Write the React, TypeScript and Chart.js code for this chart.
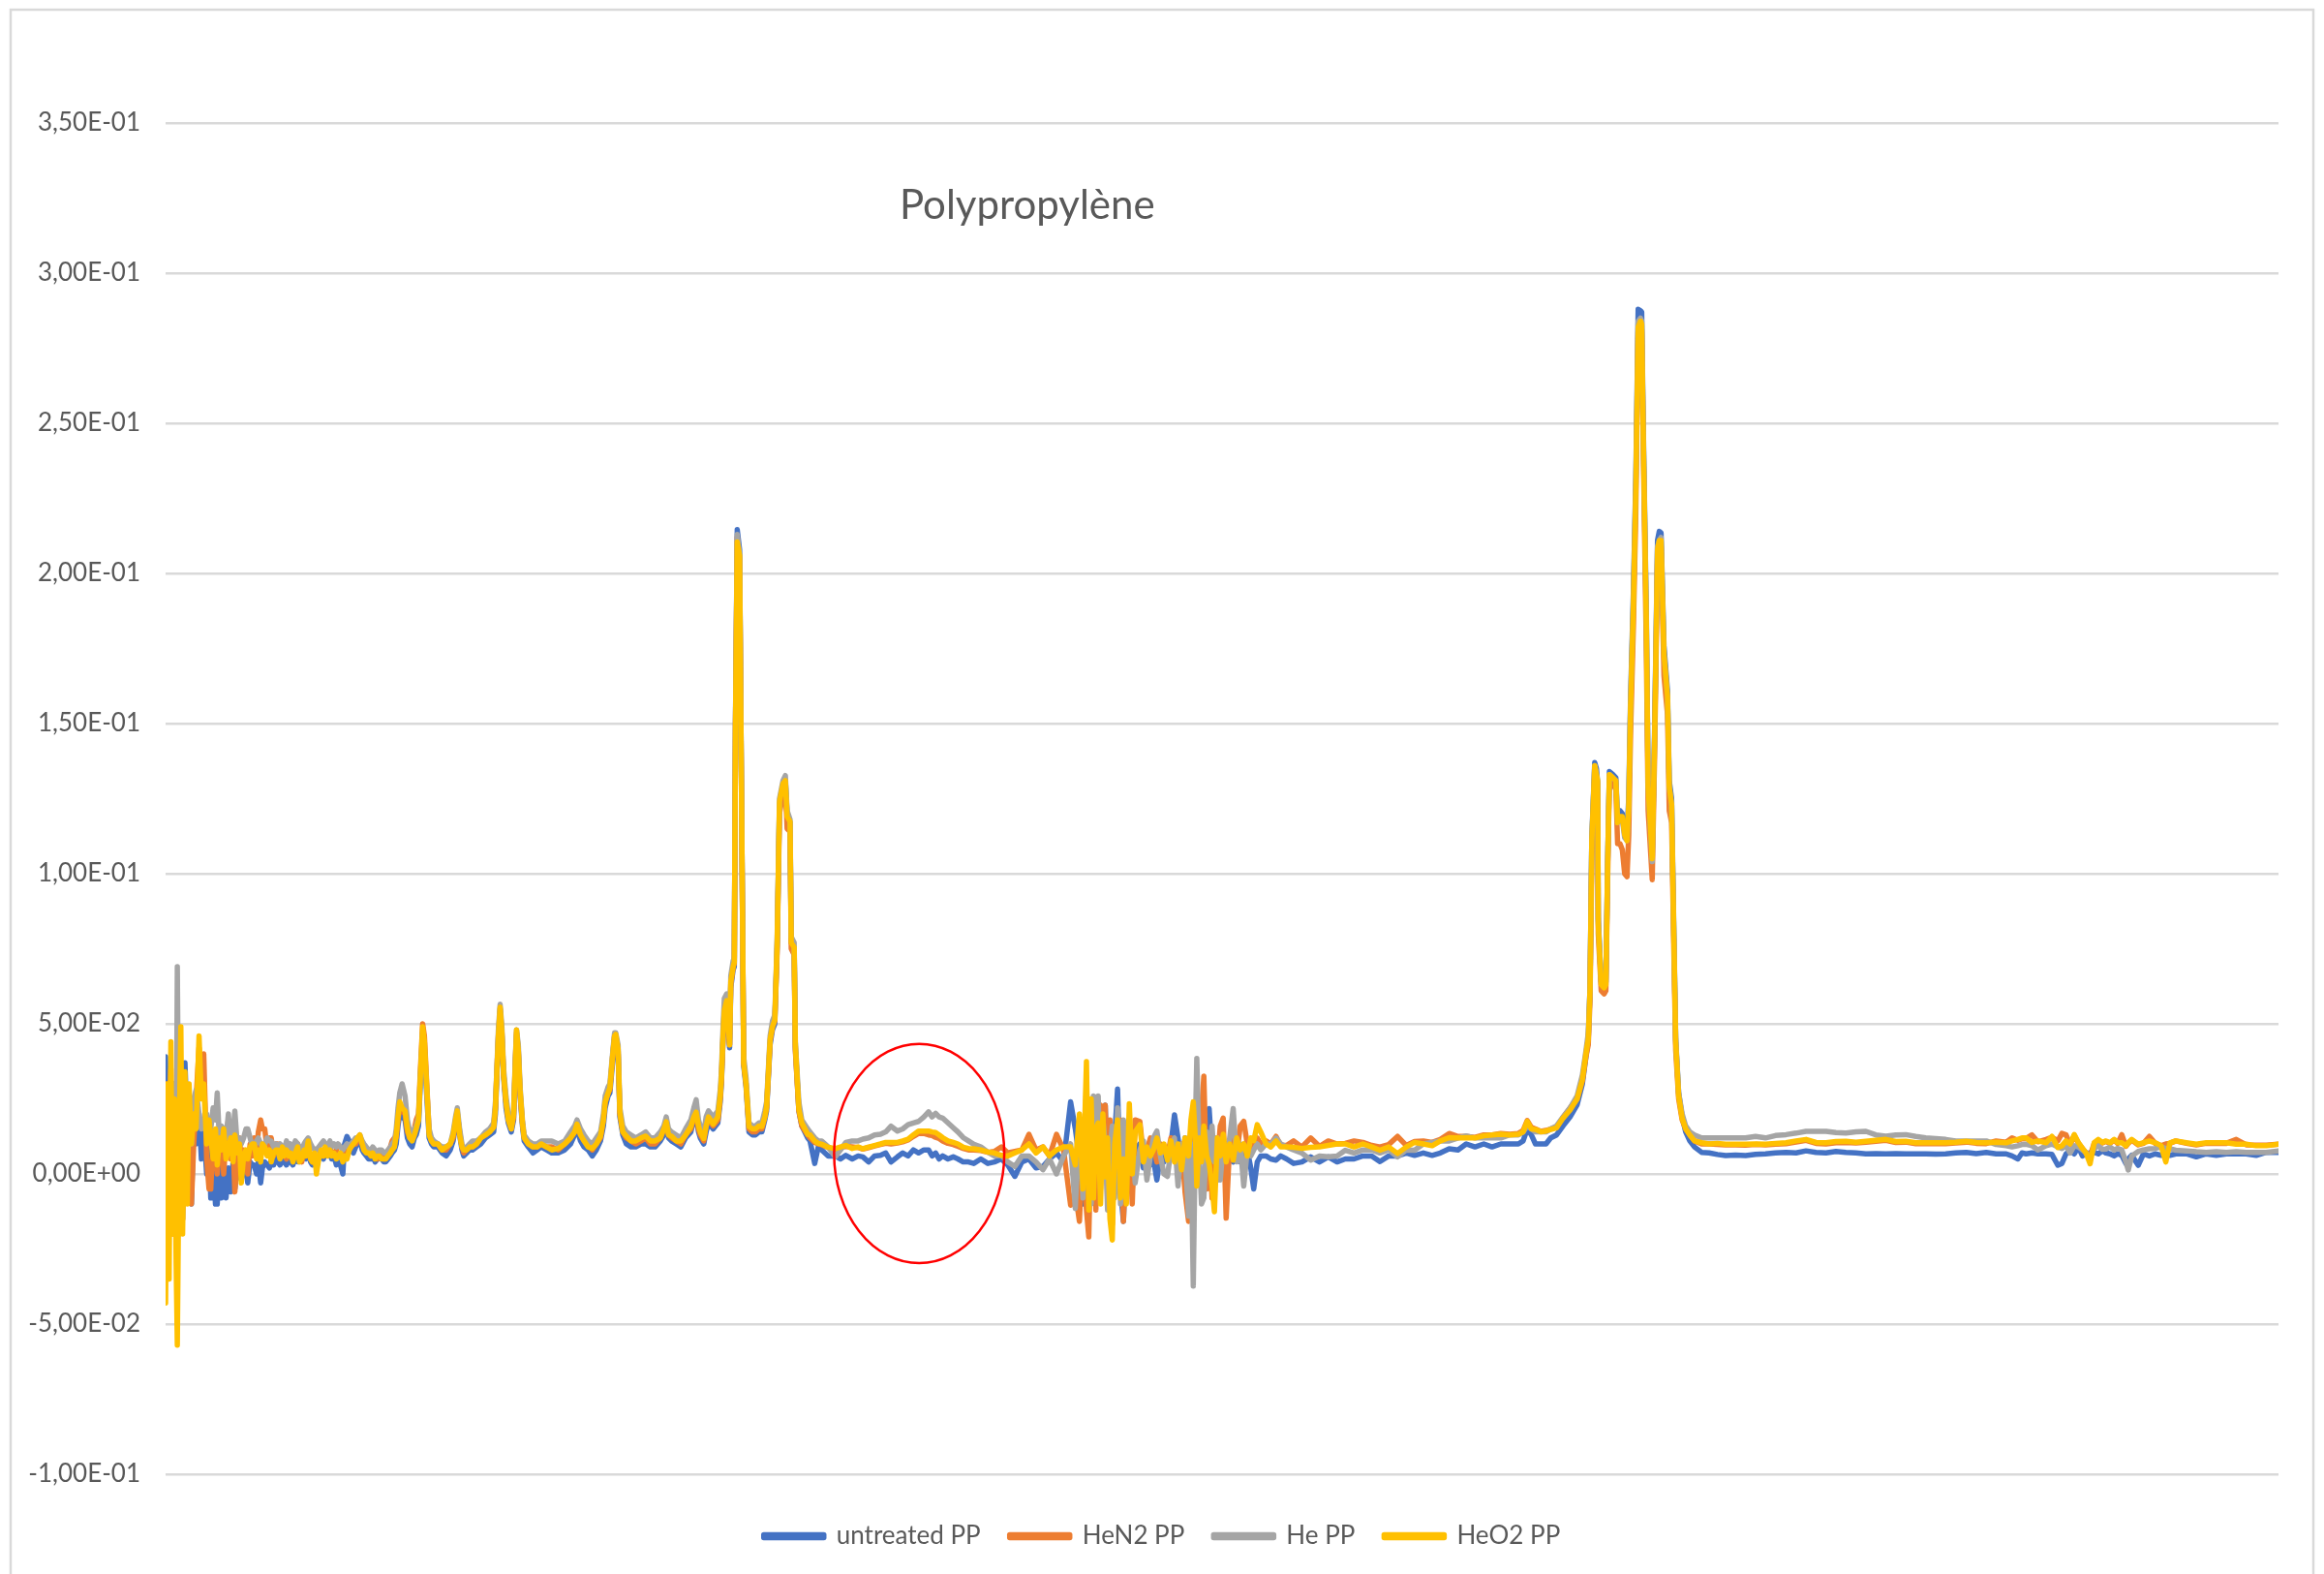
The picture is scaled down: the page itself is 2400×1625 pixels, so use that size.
import React, { useEffect, useRef } from 'react';
import { Chart, registerables } from 'chart.js';

Chart.register(...registerables);

// Wavenumber (cm-1) positions of the samples, shared by all four spectra
const WAVENUMBERS = [
  400, 403, 406, 409, 412, 415, 418, 420, 423, 426,
  429, 433, 437, 440, 444, 448, 452, 457, 461, 465,
  470, 474, 477, 481, 485, 488, 492, 495, 499, 503,
  507, 511, 515, 518, 522, 526, 529, 533, 537, 540,
  544, 548, 551, 555, 558, 562, 565, 569, 573, 577,
  580, 584, 588, 591, 595, 599, 602, 606, 610, 613,
  617, 621, 625, 628, 632, 636, 639, 643, 647, 650,
  654, 657, 661, 665, 669, 672, 676, 680, 683, 687,
  691, 694, 698, 702, 705, 709, 713, 716, 720, 724,
  727, 731, 735, 738, 742, 746, 750, 753, 757, 761,
  764, 768, 772, 775, 779, 783, 786, 790, 793, 796,
  799, 803, 808, 812, 816, 820, 824, 827, 831, 834,
  838, 841, 845, 849, 853, 857, 864, 871, 878, 885,
  890, 894, 897, 901, 905, 908, 913, 918, 923, 930,
  937, 945, 952, 959, 962, 964, 967, 970, 973, 976,
  980, 984, 989, 993, 996, 998, 1001, 1004, 1008, 1011,
  1018, 1026, 1033, 1040, 1049, 1058, 1069, 1080, 1090, 1097,
  1101, 1107, 1113, 1120, 1127, 1134, 1141, 1146, 1149, 1154,
  1157, 1162, 1165, 1167, 1171, 1174, 1179, 1185, 1193, 1201,
  1210, 1218, 1226, 1234, 1243, 1249, 1253, 1257, 1262, 1270,
  1278, 1286, 1295, 1300, 1304, 1308, 1311, 1317, 1321, 1325,
  1333, 1341, 1345, 1347, 1350, 1352, 1356, 1361, 1363, 1367,
  1369, 1371, 1374, 1378, 1382, 1385, 1389, 1394, 1400, 1405,
  1411, 1416, 1421, 1424, 1430, 1434, 1438, 1442, 1446, 1452,
  1456, 1459, 1464, 1466, 1471, 1473, 1479, 1484, 1494, 1498,
  1506, 1512, 1518, 1529, 1541, 1550, 1559, 1570, 1580, 1588,
  1598, 1608, 1618, 1627, 1636, 1647, 1656, 1665, 1674, 1683,
  1692, 1700, 1706, 1712, 1718, 1724, 1733, 1742, 1750, 1759,
  1768, 1777, 1789, 1801, 1812, 1824, 1835, 1847, 1859, 1871,
  1883, 1895, 1906, 1918, 1930, 1942, 1950, 1957, 1963, 1969,
  1973, 1977, 1981, 1985, 1989, 1993, 1997, 2001, 2005, 2009,
  2013, 2017, 2022, 2027, 2032, 2037, 2042, 2047, 2052, 2060,
  2066, 2072, 2078, 2083, 2089, 2095, 2101, 2107, 2113, 2119,
  2125, 2131, 2137, 2143, 2147, 2151, 2155, 2157, 2161, 2165,
  2169, 2174, 2178, 2183, 2187, 2192, 2197, 2202, 2207, 2213,
  2219, 2225, 2231, 2237, 2243, 2249, 2254, 2260, 2266, 2275,
  2283, 2292, 2300, 2310, 2322, 2336, 2351, 2366, 2381, 2396,
  2410, 2425, 2440, 2455, 2469, 2484, 2499, 2514, 2528, 2543,
  2558, 2572, 2587, 2602, 2616, 2631, 2646, 2660, 2675, 2690,
  2705, 2713, 2720, 2727, 2734, 2743, 2752, 2760, 2770, 2781,
  2793, 2805, 2814, 2820, 2824, 2827, 2830, 2835, 2838, 2840,
  2841, 2846, 2851, 2854, 2857, 2860, 2866, 2871, 2874, 2878,
  2882, 2886, 2890, 2893, 2896, 2901, 2905, 2909, 2913, 2915,
  2918, 2923, 2926, 2933, 2937, 2942, 2945, 2948, 2953, 2959,
  2962, 2966, 2970, 2973, 2978, 2984, 2990, 2997, 3005, 3017,
  3030, 3044, 3058, 3075, 3092, 3109, 3126, 3143, 3161, 3178,
  3195, 3212, 3229, 3246, 3263, 3280, 3297, 3314, 3331, 3348,
  3365, 3382, 3399, 3416, 3433, 3450, 3468, 3485, 3502, 3519,
  3536, 3546, 3556, 3563, 3570, 3580, 3590, 3604, 3614, 3624,
  3631, 3638, 3645, 3652, 3659, 3666, 3672, 3679, 3686, 3693,
  3700, 3706, 3713, 3720, 3726, 3733, 3740, 3744, 3750, 3761,
  3770, 3780, 3790, 3800, 3808, 3815, 3825, 3843, 3860, 3877,
  3894, 3911, 3928, 3945, 3962, 3979, 4000,
];

const UNTREATED_PP = [
  0.039, 0.010, -0.020, 0.025, 0.000, 0.030, -0.015, 0.005, 0.020, 0.010,
  -0.010, 0.037, 0.015, 0.025, -0.010, 0.018, 0.010, 0.020, 0.005, 0.015,
  0.000, 0.010, -0.008, 0.005, -0.010, -0.010, 0.005, -0.008, 0.005, -0.008,
  0.002, -0.006, 0.004, -0.005, 0.003, 0.006, -0.002, 0.004, 0.002, -0.003,
  0.004, 0.003, 0.003, 0.000, 0.004, -0.003, 0.002, 0.004, 0.003, 0.002,
  0.005, 0.003, 0.006, 0.004, 0.003, 0.005, 0.004, 0.003, 0.005, 0.004,
  0.003, 0.006, 0.004, 0.004, 0.005, 0.007, 0.005, 0.009, 0.004, 0.003,
  0.005, 0.002, 0.006, 0.006, 0.005, 0.007, 0.006, 0.007, 0.005, 0.006,
  0.003, 0.004, 0.003, 0.000, 0.010, 0.0125, 0.011, 0.008, 0.007, 0.009,
  0.010, 0.012, 0.008, 0.007, 0.006, 0.005, 0.005, 0.006, 0.004, 0.005,
  0.006, 0.005, 0.004, 0.004, 0.005, 0.006, 0.007, 0.008, 0.010, 0.016,
  0.020, 0.019, 0.018, 0.012, 0.010, 0.009, 0.012, 0.013, 0.016, 0.030,
  0.045, 0.040, 0.026, 0.012, 0.010, 0.009, 0.009, 0.007, 0.006, 0.008,
  0.011, 0.016, 0.020, 0.013, 0.008, 0.006, 0.007, 0.008, 0.008, 0.009,
  0.010, 0.012, 0.013, 0.014, 0.020, 0.030, 0.045, 0.054, 0.046, 0.032,
  0.022, 0.017, 0.014, 0.018, 0.036, 0.046, 0.040, 0.026, 0.016, 0.011,
  0.009, 0.007, 0.008, 0.009, 0.008, 0.007, 0.007, 0.008, 0.010, 0.013,
  0.015, 0.011, 0.009, 0.008, 0.006, 0.008, 0.011, 0.016, 0.022, 0.026,
  0.027, 0.038, 0.044, 0.045, 0.040, 0.019, 0.013, 0.010, 0.009, 0.009,
  0.010, 0.010, 0.009, 0.009, 0.011, 0.013, 0.016, 0.012, 0.011, 0.010,
  0.009, 0.012, 0.014, 0.018, 0.019, 0.014, 0.012, 0.010, 0.014, 0.017,
  0.015, 0.017, 0.024, 0.030, 0.045, 0.053, 0.056, 0.042, 0.062, 0.068,
  0.069, 0.150, 0.2146, 0.208, 0.110, 0.036, 0.029, 0.014, 0.013, 0.013,
  0.014, 0.014, 0.018, 0.021, 0.043, 0.048, 0.050, 0.076, 0.123, 0.129,
  0.131, 0.120, 0.117, 0.077, 0.075, 0.042, 0.021, 0.016, 0.012, 0.011,
  0.0035, 0.009, 0.008, 0.006, 0.006, 0.005, 0.0062, 0.005, 0.006, 0.0057,
  0.004, 0.006, 0.0062, 0.007, 0.004, 0.0057, 0.007, 0.006, 0.008, 0.007,
  0.008, 0.008, 0.006, 0.007, 0.005, 0.006, 0.005, 0.0057, 0.005, 0.004,
  0.004, 0.0035, 0.005, 0.0035, 0.004, 0.005, 0.003, -0.0008, 0.004, 0.005,
  0.002, 0.0025, 0.005, 0.007, 0.004, 0.024, 0.015, 0.005, -0.010, 0.020,
  0.010, -0.005, 0.018, 0.000, 0.012, 0.015, 0.005, 0.0229, -0.005, 0.010,
  -0.012, 0.012, 0.0283, -0.005, -0.0158, 0.010, 0.004, -0.005, 0.008, 0.010,
  0.002, 0.006, 0.003, 0.005, -0.002, 0.006, 0.004, 0.008, 0.010, 0.0197,
  0.012, 0.004, 0.012, -0.004, 0.008, 0.002, 0.010, 0.004, 0.014, 0.006,
  0.016, 0.010, 0.0218, 0.006, 0.012, -0.002, 0.008, 0.004, 0.010, 0.006,
  0.004, 0.008, 0.004, 0.006, 0.008, 0.002, -0.005, 0.004, 0.006, 0.006,
  0.005, 0.0046, 0.006, 0.005, 0.0035, 0.004, 0.0057, 0.004, 0.0057, 0.004,
  0.005, 0.005, 0.006, 0.006, 0.0041, 0.006, 0.006, 0.007, 0.0062, 0.007,
  0.0062, 0.007, 0.0084, 0.008, 0.010, 0.009, 0.010, 0.009, 0.010, 0.010,
  0.010, 0.011, 0.015, 0.013, 0.010, 0.010, 0.010, 0.012, 0.013, 0.016,
  0.019, 0.023, 0.030, 0.039, 0.045, 0.062, 0.112, 0.137, 0.135, 0.130,
  0.085, 0.064, 0.063, 0.064, 0.104, 0.134, 0.133, 0.132, 0.118, 0.121,
  0.120, 0.114, 0.112, 0.126, 0.158, 0.195, 0.232, 0.288, 0.2875, 0.287,
  0.246, 0.186, 0.131, 0.107, 0.148, 0.211, 0.214, 0.2135, 0.176, 0.161,
  0.131, 0.125, 0.079, 0.045, 0.027, 0.019, 0.014, 0.011, 0.009, 0.0072,
  0.007, 0.0065, 0.0061, 0.0063, 0.0061, 0.0065, 0.0067, 0.007, 0.0072, 0.007,
  0.0077, 0.0072, 0.007, 0.0075, 0.0072, 0.007, 0.0067, 0.0068, 0.0067, 0.0068,
  0.0067, 0.0067, 0.0067, 0.0066, 0.0067, 0.007, 0.0072, 0.0068, 0.0072, 0.0067,
  0.0067, 0.006, 0.005, 0.007, 0.0067, 0.007, 0.0067, 0.0067, 0.0065, 0.0029,
  0.0035, 0.0067, 0.0077, 0.0067, 0.009, 0.006, 0.0067, 0.0070, 0.0072, 0.0067,
  0.0077, 0.007, 0.0067, 0.006, 0.0067, 0.0062, 0.0035, 0.005, 0.0062, 0.0029,
  0.0067, 0.006, 0.0067, 0.0062, 0.0067, 0.0062, 0.0067, 0.0067, 0.0057, 0.0067,
  0.0062, 0.0067, 0.0067, 0.0067, 0.0062, 0.0072, 0.0072,
];

const HEN2_PP = [
  0.030, -0.010, 0.020, 0.035, -0.020, 0.015, 0.010, -0.010, 0.025, 0.030,
  -0.015, 0.025, 0.020, 0.010, -0.010, 0.010, 0.025, 0.042, 0.030, 0.040,
  0.005, -0.005, -0.005, 0.012, 0.008, 0.000, 0.010, 0.015, 0.000, 0.012,
  0.018, 0.005, 0.010, -0.006, 0.005, 0.012, 0.003, 0.008, 0.004, 0.000,
  0.010, 0.006, 0.012, 0.008, 0.014, 0.018, 0.015, 0.015, 0.008, 0.012,
  0.012, 0.006, 0.010, 0.010, 0.007, 0.006, 0.006, 0.005, 0.007, 0.006,
  0.009, 0.007, 0.010, 0.005, 0.004, 0.008, 0.006, 0.008, 0.005, 0.004,
  0.006, 0.003, 0.006, 0.008, 0.006, 0.008, 0.007, 0.009, 0.007, 0.006,
  0.008, 0.006, 0.007, 0.006, 0.008, 0.007, 0.008, 0.009, 0.010, 0.010,
  0.011, 0.012, 0.010, 0.008, 0.008, 0.007, 0.006, 0.007, 0.006, 0.005,
  0.007, 0.006, 0.005, 0.005, 0.007, 0.009, 0.011, 0.012, 0.012, 0.018,
  0.022, 0.021, 0.020, 0.014, 0.012, 0.012, 0.015, 0.018, 0.020, 0.034,
  0.050, 0.046, 0.030, 0.014, 0.011, 0.010, 0.010, 0.008, 0.008, 0.010,
  0.012, 0.017, 0.020, 0.014, 0.009, 0.007, 0.008, 0.009, 0.009, 0.010,
  0.012, 0.013, 0.014, 0.016, 0.022, 0.032, 0.046, 0.055, 0.047, 0.033,
  0.024, 0.018, 0.015, 0.019, 0.038, 0.047, 0.041, 0.027, 0.017, 0.012,
  0.010, 0.009, 0.009, 0.010, 0.009, 0.009, 0.008, 0.010, 0.012, 0.014,
  0.016, 0.013, 0.011, 0.010, 0.008, 0.010, 0.012, 0.018, 0.024, 0.027,
  0.028, 0.040, 0.046, 0.046, 0.041, 0.020, 0.014, 0.012, 0.011, 0.010,
  0.011, 0.012, 0.010, 0.010, 0.012, 0.015, 0.017, 0.013, 0.012, 0.011,
  0.010, 0.013, 0.015, 0.019, 0.020, 0.015, 0.013, 0.011, 0.016, 0.018,
  0.016, 0.018, 0.025, 0.031, 0.046, 0.054, 0.057, 0.043, 0.063, 0.069,
  0.070, 0.148, 0.212, 0.205, 0.108, 0.037, 0.030, 0.015, 0.014, 0.014,
  0.015, 0.015, 0.019, 0.022, 0.044, 0.049, 0.051, 0.074, 0.120, 0.127,
  0.129, 0.115, 0.114, 0.075, 0.073, 0.041, 0.021, 0.016, 0.013, 0.012,
  0.0105, 0.0100, 0.0097, 0.0088, 0.0082, 0.0088, 0.0092, 0.0090, 0.0088, 0.0083,
  0.0088, 0.0093, 0.0098, 0.0102, 0.0100, 0.0103, 0.0107, 0.0113, 0.0125, 0.0135,
  0.0135, 0.0130, 0.0128, 0.0122, 0.0118, 0.0110, 0.0102, 0.0098, 0.0092, 0.0085,
  0.0080, 0.0080, 0.0078, 0.0072, 0.0075, 0.0090, 0.0070, 0.0075, 0.0080, 0.0132,
  0.008, 0.009, 0.006, 0.0132, 0.008, -0.0104, -0.006, -0.0158, 0.010, -0.012,
  -0.021, 0.015, 0.008, -0.012, 0.020, 0.0229, 0.010, 0.0229, -0.008, 0.018,
  -0.0167, 0.010, 0.012, 0.018, -0.0158, 0.010, 0.012, -0.010, 0.018, 0.0175,
  0.006, 0.008, 0.012, 0.009, 0.004, 0.010, 0.008, 0.006, 0.012, 0.008,
  0.004, 0.010, -0.006, -0.0158, 0.012, 0.008, 0.000, 0.014, 0.006, 0.020,
  0.0326, -0.005, 0.010, -0.008, 0.012, 0.004, 0.016, 0.0186, -0.0147, 0.010,
  0.012, 0.006, 0.016, 0.0175, 0.010, 0.008, 0.010, 0.012, 0.010, 0.011,
  0.0100, 0.0125, 0.0095, 0.0095, 0.0110, 0.0090, 0.0120, 0.0092, 0.0110, 0.0100,
  0.0102, 0.0110, 0.0105, 0.0095, 0.0090, 0.0098, 0.0125, 0.0095, 0.0108, 0.0110,
  0.0105, 0.0115, 0.0135, 0.0125, 0.0125, 0.0122, 0.0130, 0.0130, 0.0135, 0.0132,
  0.0135, 0.0145, 0.0178, 0.0155, 0.0150, 0.0142, 0.0145, 0.0150, 0.0156, 0.0188,
  0.022, 0.025, 0.031, 0.039, 0.043, 0.058, 0.105, 0.133, 0.130, 0.125,
  0.080, 0.061, 0.060, 0.061, 0.098, 0.131, 0.130, 0.128, 0.110, 0.110,
  0.108, 0.100, 0.099, 0.113, 0.146, 0.183, 0.220, 0.281, 0.283, 0.281,
  0.238, 0.173, 0.121, 0.098, 0.139, 0.204, 0.208, 0.209, 0.166, 0.153,
  0.121, 0.117, 0.072, 0.041, 0.025, 0.018, 0.015, 0.013, 0.011, 0.010,
  0.010, 0.0098, 0.0097, 0.0097, 0.0096, 0.0098, 0.0097, 0.0099, 0.0101, 0.0106,
  0.0112, 0.0102, 0.0100, 0.0104, 0.0105, 0.0103, 0.0106, 0.0109, 0.0112, 0.0105,
  0.0106, 0.0101, 0.0101, 0.0101, 0.0101, 0.0103, 0.0106, 0.0102, 0.0101, 0.0110,
  0.0106, 0.0120, 0.0112, 0.0117, 0.0118, 0.0130, 0.0107, 0.0115, 0.0122, 0.0110,
  0.0135, 0.0130, 0.0098, 0.0128, 0.0103, 0.0085, 0.0070, 0.0060, 0.0102, 0.0112,
  0.0103, 0.0108, 0.0102, 0.0113, 0.0102, 0.0131, 0.0092, 0.0102, 0.0113, 0.0097,
  0.0102, 0.0125, 0.0102, 0.0094, 0.0100, 0.0102, 0.0110, 0.0102, 0.0097, 0.0102,
  0.0102, 0.0102, 0.0115, 0.0097, 0.0096, 0.0096, 0.0099,
];

const HE_PP = [
  0.000, 0.020, -0.015, 0.010, -0.010, 0.030, 0.000, 0.069, -0.010, 0.020,
  -0.015, 0.020, 0.005, 0.020, 0.010, 0.025, 0.028, 0.020, 0.015, 0.018,
  0.020, 0.012, 0.015, 0.022, 0.018, 0.027, 0.010, 0.016, 0.015, 0.012,
  0.020, 0.008, 0.014, 0.021, 0.010, 0.012, 0.010, 0.012, 0.015, 0.015,
  0.012, 0.009, 0.009, 0.011, 0.012, 0.010, 0.009, 0.010, 0.012, 0.011,
  0.011, 0.009, 0.010, 0.009, 0.010, 0.009, 0.008, 0.011, 0.009, 0.010,
  0.008, 0.011, 0.010, 0.009, 0.008, 0.010, 0.011, 0.012, 0.010, 0.009,
  0.008, 0.008, 0.009, 0.010, 0.011, 0.010, 0.009, 0.011, 0.009, 0.010,
  0.009, 0.010, 0.009, 0.008, 0.009, 0.010, 0.009, 0.010, 0.011, 0.012,
  0.012, 0.013, 0.011, 0.010, 0.009, 0.008, 0.008, 0.009, 0.008, 0.007,
  0.008, 0.008, 0.007, 0.007, 0.008, 0.009, 0.010, 0.011, 0.015, 0.022,
  0.027, 0.030, 0.026, 0.018, 0.014, 0.013, 0.015, 0.016, 0.019, 0.032,
  0.047, 0.042, 0.028, 0.015, 0.012, 0.011, 0.010, 0.009, 0.009, 0.010,
  0.014, 0.019, 0.022, 0.015, 0.010, 0.008, 0.009, 0.010, 0.011, 0.011,
  0.012, 0.014, 0.015, 0.017, 0.024, 0.033, 0.048, 0.0565, 0.049, 0.035,
  0.026, 0.020, 0.016, 0.021, 0.039, 0.048, 0.043, 0.029, 0.018, 0.013,
  0.011, 0.010, 0.010, 0.011, 0.011, 0.011, 0.010, 0.011, 0.014, 0.016,
  0.018, 0.015, 0.013, 0.011, 0.010, 0.012, 0.014, 0.020, 0.026, 0.029,
  0.030, 0.041, 0.047, 0.047, 0.043, 0.022, 0.016, 0.014, 0.013, 0.012,
  0.013, 0.014, 0.012, 0.012, 0.014, 0.016, 0.019, 0.015, 0.014, 0.013,
  0.012, 0.015, 0.018, 0.022, 0.0247, 0.018, 0.016, 0.014, 0.019, 0.021,
  0.019, 0.021, 0.028, 0.034, 0.050, 0.0585, 0.060, 0.045, 0.066, 0.071,
  0.072, 0.149, 0.213, 0.206, 0.110, 0.039, 0.032, 0.017, 0.016, 0.016,
  0.017, 0.017, 0.021, 0.024, 0.046, 0.051, 0.053, 0.078, 0.125, 0.131,
  0.1327, 0.121, 0.118, 0.079, 0.077, 0.044, 0.024, 0.018, 0.015, 0.014,
  0.012, 0.011, 0.011, 0.009, 0.0057, 0.008, 0.0105, 0.011, 0.011, 0.0116,
  0.012, 0.013, 0.0132, 0.014, 0.0159, 0.0143, 0.015, 0.0164, 0.017, 0.0175,
  0.019, 0.0207, 0.019, 0.0202, 0.019, 0.0186, 0.017, 0.0154, 0.014, 0.0121,
  0.011, 0.0099, 0.009, 0.0073, 0.006, 0.0062, 0.004, 0.0025, 0.006, 0.006,
  0.004, 0.0014, 0.005, 0.000, 0.006, 0.010, -0.0115, 0.018, -0.008, 0.030,
  0.005, -0.010, 0.026, 0.010, 0.026, -0.005, 0.018, 0.010, -0.012, 0.008,
  0.016, -0.008, 0.022, -0.010, 0.018, 0.000, 0.010, 0.012, -0.003, 0.008,
  0.011, -0.002, 0.006, 0.012, 0.0143, 0.006, 0.000, -0.0008, 0.008, 0.012,
  -0.004, 0.010, 0.006, -0.014, 0.010, -0.0373, 0.020, 0.0385, 0.008, -0.010,
  -0.008, 0.014, 0.004, 0.016, 0.004, 0.012, -0.002, 0.010, 0.006, 0.012,
  0.0218, 0.004, 0.010, -0.004, 0.008, 0.006, 0.008, 0.010, 0.008, 0.010,
  0.010, 0.012, 0.010, 0.009, 0.008, 0.007, 0.0046, 0.006, 0.0057, 0.006,
  0.0079, 0.007, 0.008, 0.008, 0.007, 0.008, 0.0057, 0.008, 0.0079, 0.010,
  0.0105, 0.011, 0.011, 0.012, 0.0127, 0.012, 0.012, 0.012, 0.012, 0.013,
  0.013, 0.014, 0.016, 0.015, 0.014, 0.014, 0.014, 0.015, 0.016, 0.019,
  0.022, 0.026, 0.033, 0.041, 0.047, 0.062, 0.111, 0.136, 0.133, 0.130,
  0.084, 0.064, 0.063, 0.064, 0.103, 0.133, 0.132, 0.131, 0.117, 0.118,
  0.118, 0.112, 0.111, 0.124, 0.156, 0.192, 0.229, 0.284, 0.285, 0.284,
  0.243, 0.183, 0.129, 0.104, 0.145, 0.209, 0.211, 0.212, 0.174, 0.159,
  0.129, 0.123, 0.077, 0.044, 0.027, 0.020, 0.016, 0.014, 0.013, 0.012,
  0.012, 0.012, 0.012, 0.012, 0.012, 0.0125, 0.012, 0.0128, 0.0131, 0.0136,
  0.0142, 0.0142, 0.0142, 0.0138, 0.0136, 0.014, 0.0142, 0.013, 0.0126, 0.013,
  0.0131, 0.0125, 0.012, 0.0118, 0.0115, 0.011, 0.011, 0.011, 0.011, 0.0098,
  0.0094, 0.009, 0.0094, 0.0098, 0.0099, 0.0094, 0.008, 0.0094, 0.010, 0.009,
  0.0085, 0.0094, 0.007, 0.0094, 0.009, 0.008, 0.0072, 0.0056, 0.0085, 0.0094,
  0.0082, 0.0083, 0.009, 0.008, 0.0085, 0.008, 0.004, 0.0013, 0.006, 0.0075,
  0.008, 0.0084, 0.0085, 0.009, 0.0085, 0.0084, 0.0079, 0.0077, 0.0074, 0.0072,
  0.0074, 0.0072, 0.0074, 0.0072, 0.0072, 0.0072, 0.0077,
];

const HEO2_PP = [
  -0.043, 0.030, -0.035, 0.044, -0.020, 0.025, -0.030, -0.057, 0.010, 0.049,
  -0.020, 0.034, -0.010, 0.030, 0.010, 0.020, 0.015, 0.046, 0.025, 0.030,
  0.010, 0.018, 0.012, 0.005, 0.015, 0.003, 0.012, 0.008, 0.015, 0.005,
  0.008, 0.012, 0.004, 0.013, 0.007, 0.010, -0.003, 0.006, 0.008, 0.005,
  0.009, 0.010, 0.010, 0.005, 0.008, 0.004, 0.010, 0.009, 0.006, 0.008,
  0.004, 0.007, 0.008, 0.008, 0.005, 0.009, 0.006, 0.008, 0.006, 0.007,
  0.004, 0.007, 0.009, 0.004, 0.005, 0.008, 0.006, 0.011, 0.005, 0.004,
  0.007, 0.000, 0.005, 0.008, 0.006, 0.009, 0.006, 0.008, 0.006, 0.007,
  0.005, 0.006, 0.007, 0.004, 0.006, 0.005, 0.008, 0.009, 0.010, 0.011,
  0.012, 0.013, 0.010, 0.008, 0.007, 0.007, 0.006, 0.007, 0.005, 0.006,
  0.006, 0.005, 0.005, 0.005, 0.006, 0.007, 0.008, 0.009, 0.013, 0.019,
  0.024, 0.022, 0.021, 0.015, 0.012, 0.011, 0.013, 0.015, 0.018, 0.032,
  0.049, 0.044, 0.029, 0.013, 0.011, 0.010, 0.010, 0.008, 0.009, 0.010,
  0.013, 0.018, 0.021, 0.013, 0.009, 0.008, 0.008, 0.009, 0.009, 0.010,
  0.012, 0.013, 0.014, 0.0155, 0.022, 0.032, 0.046, 0.0556, 0.047, 0.033,
  0.024, 0.018, 0.015, 0.020, 0.037, 0.048, 0.041, 0.028, 0.017, 0.012,
  0.010, 0.009, 0.009, 0.010, 0.009, 0.008, 0.0085, 0.010, 0.012, 0.014,
  0.0166, 0.013, 0.011, 0.009, 0.0085, 0.010, 0.0126, 0.018, 0.024, 0.027,
  0.0287, 0.040, 0.046, 0.0465, 0.0416, 0.0206, 0.014, 0.0126, 0.011, 0.011,
  0.012, 0.0126, 0.011, 0.011, 0.012, 0.015, 0.0174, 0.013, 0.0126, 0.011,
  0.011, 0.013, 0.0158, 0.019, 0.0206, 0.016, 0.014, 0.0118, 0.016, 0.019,
  0.0166, 0.019, 0.026, 0.032, 0.047, 0.0545, 0.0577, 0.043, 0.064, 0.069,
  0.0706, 0.150, 0.2105, 0.206, 0.109, 0.0368, 0.030, 0.0158, 0.015, 0.015,
  0.016, 0.0158, 0.019, 0.0223, 0.0448, 0.049, 0.0513, 0.077, 0.124, 0.130,
  0.131, 0.119, 0.1174, 0.077, 0.0755, 0.043, 0.0215, 0.017, 0.0132, 0.013,
  0.011, 0.0102, 0.0099, 0.0089, 0.0084, 0.009, 0.0095, 0.0085, 0.009, 0.0084,
  0.009, 0.0095, 0.010, 0.0105, 0.0105, 0.0105, 0.011, 0.0116, 0.013, 0.0143,
  0.0143, 0.0143, 0.014, 0.0138, 0.013, 0.0121, 0.011, 0.0105, 0.010, 0.0089,
  0.0085, 0.0084, 0.008, 0.0073, 0.007, 0.0062, 0.006, 0.007, 0.008, 0.010,
  0.007, 0.009, 0.006, 0.008, 0.009, 0.009, 0.003, 0.020, -0.005, 0.0374,
  -0.012, 0.025, -0.008, 0.015, 0.017, -0.010, 0.020, -0.001, 0.012, -0.015,
  -0.022, 0.010, 0.018, -0.008, 0.005, -0.010, 0.0234, 0.000, 0.014, 0.0164,
  0.004, 0.009, 0.006, 0.008, 0.012, 0.007, 0.010, 0.0046, 0.011, 0.004,
  0.010, 0.0014, 0.012, 0.006, 0.018, 0.024, 0.010, -0.004, 0.012, 0.004,
  0.016, 0.006, 0.0035, -0.004, -0.0126, 0.012, 0.006, 0.0132, 0.004, 0.010,
  0.0046, 0.012, 0.008, 0.010, 0.006, 0.012, 0.0111, 0.0164, 0.014, 0.010,
  0.009, 0.011, 0.009, 0.009, 0.0089, 0.0085, 0.0089, 0.009, 0.0095, 0.010,
  0.010, 0.009, 0.010, 0.009, 0.0079, 0.009, 0.0068, 0.009, 0.0105, 0.010,
  0.0094, 0.011, 0.0121, 0.012, 0.0121, 0.012, 0.0127, 0.013, 0.0132, 0.013,
  0.0132, 0.014, 0.0175, 0.015, 0.0148, 0.014, 0.0143, 0.0148, 0.0154, 0.0186,
  0.0213, 0.025, 0.0315, 0.040, 0.045, 0.0615, 0.111, 0.136, 0.133, 0.131,
  0.083, 0.063, 0.062, 0.063, 0.103, 0.133, 0.132, 0.131, 0.117, 0.119,
  0.119, 0.113, 0.111, 0.123, 0.155, 0.190, 0.228, 0.282, 0.284, 0.283,
  0.242, 0.183, 0.129, 0.105, 0.145, 0.208, 0.211, 0.211, 0.173, 0.159,
  0.129, 0.123, 0.077, 0.044, 0.026, 0.0185, 0.015, 0.013, 0.011, 0.0104,
  0.010, 0.0102, 0.0099, 0.0099, 0.0099, 0.0100, 0.0099, 0.0102, 0.0104, 0.0110,
  0.0115, 0.0105, 0.0104, 0.0108, 0.0109, 0.0106, 0.0109, 0.0112, 0.0115, 0.0108,
  0.0109, 0.0104, 0.0104, 0.0104, 0.0104, 0.0106, 0.0109, 0.0105, 0.0104, 0.0106,
  0.0104, 0.0110, 0.0115, 0.0120, 0.0120, 0.0105, 0.0110, 0.0104, 0.0125, 0.0088,
  0.0094, 0.011, 0.010, 0.0131, 0.0105, 0.0085, 0.007, 0.0034, 0.0104, 0.0115,
  0.0105, 0.0110, 0.0104, 0.0115, 0.0104, 0.0104, 0.0094, 0.0104, 0.0115, 0.0099,
  0.0104, 0.0110, 0.0104, 0.0094, 0.0040, 0.0104, 0.0110, 0.0104, 0.0099, 0.0104,
  0.0104, 0.0104, 0.0099, 0.0099, 0.0094, 0.0094, 0.0099,
];

const SERIES_LABELS = ['untreated PP', 'HeN2 PP', 'He PP', 'HeO2 PP'];
const SERIES_VALUES = [UNTREATED_PP, HEN2_PP, HE_PP, HEO2_PP];
const SERIES_COLORS = ['#4472C4', '#ED7D31', '#A5A5A5', '#FFC000'];
const SERIES_ORDER = [4, 3, 2, 1]; // yellow drawn on top

const Y_TICK_LABELS = [
  '-1,00E-01', '-5,00E-02', '0,00E+00', '5,00E-02', '1,00E-01',
  '1,50E-01', '2,00E-01', '2,50E-01', '3,00E-01', '3,50E-01',
];

const CHART_TITLE = 'Polypropylène';
// Title anchor, in data units (wavenumber, absorbance)
const TITLE_ANCHOR = { wn: 1868, value: 0.318 };
// Red ellipse highlighting the carbonyl region
const HIGHLIGHT = { wn: 1684, value: 0.0068, halfWidthWn: 145, halfHeight: 0.0365 };

const FONT = 'Lato, "Open Sans", sans-serif';
const TEXT_COLOR = '#595959';
const GRID_COLOR = '#D9D9D9';

const decorPlugin = {
  id: 'decor',
  beforeDraw(chart: any) {
    const ctx = chart.ctx;
    ctx.save();
    ctx.strokeStyle = GRID_COLOR;
    ctx.lineWidth = 2.5;
    ctx.strokeRect(11, 10, 2378, 1700);
    ctx.restore();
  },
  afterDatasetsDraw(chart: any) {
    const ctx = chart.ctx;
    const x = chart.scales.x;
    const y = chart.scales.y;
    const cx = x.getPixelForValue(HIGHLIGHT.wn);
    const cy = y.getPixelForValue(HIGHLIGHT.value);
    const rx = Math.abs(x.getPixelForValue(HIGHLIGHT.wn + HIGHLIGHT.halfWidthWn) - cx);
    const ry = Math.abs(y.getPixelForValue(HIGHLIGHT.value + HIGHLIGHT.halfHeight) - cy);
    ctx.save();
    ctx.beginPath();
    ctx.ellipse(cx, cy, rx, ry, 0, 0, Math.PI * 2);
    ctx.strokeStyle = '#FF0000';
    ctx.lineWidth = 2.5;
    ctx.stroke();
    ctx.restore();

    ctx.save();
    ctx.font = `42px ${FONT}`;
    ctx.fillStyle = TEXT_COLOR;
    ctx.textAlign = 'center';
    ctx.textBaseline = 'alphabetic';
    ctx.fillText(CHART_TITLE, x.getPixelForValue(TITLE_ANCHOR.wn), y.getPixelForValue(TITLE_ANCHOR.value));
    ctx.restore();
  },
};

export default function App() {
  const canvasRef = useRef<HTMLCanvasElement | null>(null);

  useEffect(() => {
    if (!canvasRef.current) return;
    const datasets = SERIES_LABELS.map((label, s) => ({
      label,
      data: WAVENUMBERS.map((wn, i) => ({ x: wn, y: SERIES_VALUES[s][i] })),
      borderColor: SERIES_COLORS[s],
      backgroundColor: SERIES_COLORS[s],
      borderWidth: 5.5,
      pointRadius: 0,
      pointHoverRadius: 0,
      tension: 0,
      fill: false,
      borderJoinStyle: 'round' as const,
      borderCapStyle: 'round' as const,
      order: SERIES_ORDER[s],
    }));

    const chart = new Chart(canvasRef.current, {
      type: 'line',
      data: { datasets },
      plugins: [decorPlugin],
      options: {
        animation: false,
        responsive: false,
        devicePixelRatio: 1,
        layout: { padding: { top: 127, right: 0, bottom: 16, left: 0 } },
        scales: {
          x: {
            type: 'linear',
            min: 400,
            max: 4000,
            display: true,
            grid: { display: false },
            border: { display: false },
            ticks: { display: false },
            afterFit: (scale: any) => { scale.height = 21; },
          },
          y: {
            min: -0.1,
            max: 0.35,
            border: { display: false },
            grid: { color: GRID_COLOR, lineWidth: 2.5, drawTicks: false },
            ticks: {
              stepSize: 0.05,
              padding: 26,
              color: TEXT_COLOR,
              font: { family: FONT, size: 26 },
              callback: (_v: any, index: number) => Y_TICK_LABELS[index],
            },
            afterFit: (scale: any) => { scale.width = 171; },
          },
          // empty right-hand spacer so the legend stays centred on the page
          spacer: {
            type: 'linear',
            position: 'right',
            display: true,
            min: 0,
            max: 1,
            grid: { display: false },
            border: { display: false },
            ticks: { display: false },
            afterFit: (scale: any) => { scale.width = 47; },
          },
        },
        plugins: {
          title: { display: false },
          tooltip: { enabled: false },
          legend: {
            display: true,
            position: 'bottom',
            labels: {
              boxWidth: 62,
              boxHeight: 3,
              padding: 30,
              color: TEXT_COLOR,
              font: { family: FONT, size: 26 },
              sort: (a: any, b: any) => a.datasetIndex - b.datasetIndex,
            },
          },
        },
      },
    });
    return () => chart.destroy();
  }, []);

  return (
    <div style={{ position: 'fixed', left: 0, top: 0, width: 2400, height: 1625, background: '#fff' }}>
      <canvas ref={canvasRef} width={2400} height={1625} style={{ display: 'block' }} />
    </div>
  );
}
